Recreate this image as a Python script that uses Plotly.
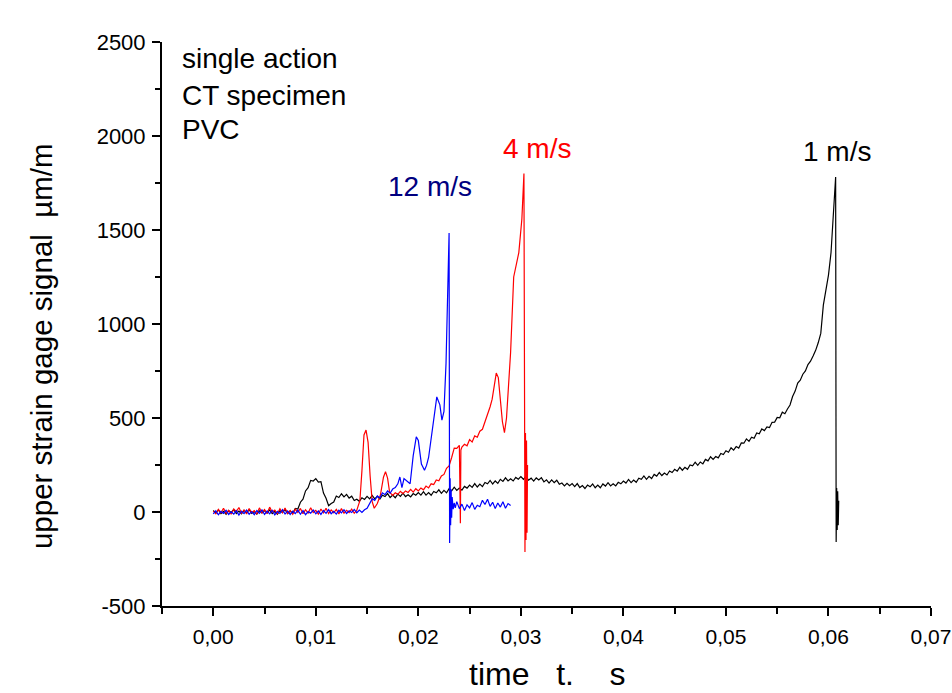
import plotly.graph_objects as go

# sample spacing of the logger, ms
dt_ms = 0.25

# ---- 1 m/s : evenly sampled part 0 .. 59.75 ms, then the fracture tail
v_1ms_s = [
    8, -6, 11, -9, 3, -12, 7, -2,
    13, -8, 5, -10, 9, -4, 12, -7,
    2, -11, 6, -5, 8, -6, 11, -9,
    3, -12, 7, -2, 13, -8, 5, -7,
    19, 16, 52, 68, 112, 129, 168, 165,
    178, 159, 161, 101, 73, 33, 45, 53,
    85, 77, 97, 80, 94, 74, 84, 61,
    68, 57, 76, 67, 83, 70, 88, 70,
    83, 69, 89, 82, 98, 77, 90, 76,
    95, 83, 100, 82, 92, 80, 98, 89,
    103, 90, 108, 90, 103, 89, 109, 102,
    118, 99, 115, 102, 124, 113, 132, 115,
    127, 116, 136, 127, 143, 131, 151, 133,
    148, 135, 157, 150, 168, 149, 165, 152,
    174, 163, 182, 165, 177, 165, 184, 174,
    188, 174, 190, 169, 180, 164, 181, 170,
    183, 160, 171, 154, 171, 156, 169, 148,
    154, 139, 153, 140, 151, 135, 151, 130,
    141, 125, 143, 134, 149, 129, 143, 129,
    149, 138, 156, 139, 150, 139, 158, 150,
    165, 154, 173, 156, 170, 158, 180, 174,
    192, 174, 190, 178, 200, 191, 210, 194,
    207, 197, 218, 210, 227, 217, 238, 222,
    238, 227, 250, 246, 265, 248, 266, 256,
    280, 272, 294, 280, 295, 288, 311, 306,
    326, 318, 342, 329, 348, 340, 367, 366,
    389, 376, 398, 392, 420, 416, 442, 433,
    452, 449, 477, 478, 503, 501, 531, 523,
    548, 569, 614, 643, 686, 701, 733, 750,
    784, 802, 830, 860, 900, 950, 1100, 1180,
]
t_1ms_tail = [60.0, 60.25, 60.5, 60.7, 60.75, 60.8, 60.85, 60.9, 60.95, 61.0]
v_1ms_tail = [1260, 1380, 1600, 1782, -160, 128, -96, 110, -70, 60]

# ---- 4 m/s : evenly sampled 0 .. 13.75 ms, then the loading part
v_4ms_s = [
    5, -9, 14, -4, 20, -7, 9, -12, 16, 2, 24, -6, 11, -10, 18, -3,
    7, -11, 22, -5, 13, -8, 26, 0, 10, -9, 17, -4, 21, -7, 8, -12,
    15, -2, 19, -9, 12, -6, 23, -3, 9, -11, 16, -5, 20, -8, 11, -4,
    14, -10, 18, -6, 9, -3, 15, -7,
]
t_4ms_tail = [14.0, 14.3, 14.5, 14.7, 14.9, 15.1, 15.3, 15.5, 15.7, 16.0, 16.3, 16.6,
              16.8, 17.0, 17.2, 17.5, 17.75, 18.0, 18.25, 18.5, 18.75, 19.0, 19.25,
              19.5, 19.75, 20.0, 20.25, 20.5, 20.75, 21.0, 21.25, 21.5, 21.75, 22.0,
              22.25, 22.5, 22.75, 23.0, 23.25, 23.5, 23.75, 24.0, 24.1, 24.15, 24.25,
              24.5, 24.75, 25.0, 25.25, 25.5, 25.75, 26.0, 26.25, 26.5, 26.75, 27.0,
              27.2, 27.4, 27.6, 27.8, 28.0, 28.2, 28.4, 28.6, 29.0, 29.3, 29.8, 30.1,
              30.3, 30.4, 30.45, 30.5, 30.55, 30.6, 30.65]
v_4ms_tail = [10, 60, 220, 410, 436, 370, 190, 55, 20, 45, 90, 185,
              215, 180, 105, 88, 102, 94, 110, 97, 112, 104, 120,
              106, 124, 112, 128, 118, 138, 128, 150, 146, 170, 166,
              192, 200, 232, 245, 290, 340, 338, 355, -60, 330, 345,
              360, 352, 385, 372, 405, 398, 430, 440, 480, 510, 560,
              600, 665, 739, 715, 610, 480, 422, 500, 850, 1250, 1380, 1560,
              1800, -213, 420, -149, 380, -110, 250]

# ---- 12 m/s : evenly sampled 0 .. 14.25 ms, then the loading part
v_12ms_s = [
    -10, 6, -15, 3, -8, 9, -13, 1, -11, 7, -16, 4, -9, 10, -12, 2,
    -14, 8, -7, 11, -13, 5, -10, 9, -15, 3, -8, 12, -11, 6, -13, 4,
    -9, 10, -12, 7, -14, 2, -6, 11, -10, 5, -13, 8, -7, 13, -9, 4,
    -11, 9, -5, 12, -8, 6, -3, 14, -4, 10,
]
t_12ms_tail = [14.5, 14.75, 15.0, 15.25, 15.5, 15.75, 16.0, 16.25, 16.5, 16.75, 17.0,
               17.25, 17.5, 17.75, 18.0, 18.2, 18.4, 18.6, 19.0, 19.2, 19.5, 19.8,
               20.0, 20.3, 20.6, 20.8, 21.0, 21.3, 21.8, 22.1, 22.3, 22.5, 22.7, 23.0,
               23.05, 23.1, 23.15, 23.2, 23.25, 23.3, 23.4, 23.5, 23.6, 23.75, 24.0,
               24.25, 24.5, 24.75, 25.0, 25.25, 25.5, 25.75, 26.0, 26.25, 26.5, 26.75,
               27.0, 27.25, 27.5, 27.75, 28.0, 28.25, 28.5, 28.75, 29.0]
v_12ms_tail = [-2, 12, 20, 48, 70, 62, 85, 74, 102, 92, 112,
               100, 122, 130, 150, 186, 130, 178, 160, 150, 300, 400,
               380, 255, 222, 248, 290, 420, 612, 570, 489, 535, 790, 1484,
               -165, 180, -70, 120, -30, 80, 15, 48, 22, 55, 18,
               42, 8, 38, 22, 50, 14, 36, 28, 62, 40, 68,
               30, 52, 18, 48, 26, 55, 20, 45, 35]

x_tick_vals = [0.0, 0.01, 0.02, 0.03, 0.04, 0.05, 0.06, 0.07]
x_tick_text = ["0,00", "0,01", "0,02", "0,03", "0,04", "0,05", "0,06", "0,07"]
y_tick_vals = [-500, 0, 500, 1000, 1500, 2000, 2500]
y_tick_text = ["-500", "0", "500", "1000", "1500", "2000", "2500"]

ARIAL = "Liberation Sans, Arial, sans-serif"


def series(v_even, t_tail, v_tail):
    t = [i * dt_ms for i in range(len(v_even))] + t_tail
    return [a / 1000 for a in t], v_even + v_tail


fig = go.Figure()
for v_even, t_tail, v_tail, col in [(v_1ms_s, t_1ms_tail, v_1ms_tail, "#000000"),
                                    (v_4ms_s, t_4ms_tail, v_4ms_tail, "#ff0000"),
                                    (v_12ms_s, t_12ms_tail, v_12ms_tail, "#0000ff")]:
    x, y = series(v_even, t_tail, v_tail)
    fig.add_trace(go.Scatter(x=x, y=y, mode="lines",
                             line=dict(color=col, width=1.2), showlegend=False))

fig.update_layout(
    width=963, height=693,
    margin=dict(l=162, r=22, t=42, b=87),
    plot_bgcolor="white", paper_bgcolor="white",
    xaxis=dict(range=[-0.005, 0.07], tickvals=x_tick_vals, ticktext=x_tick_text,
               showgrid=False, zeroline=False, showline=True, linecolor="black", linewidth=2,
               ticks="outside", ticklen=8, tickwidth=1.5, tickcolor="black",
               ticklabelstandoff=3,
               tickfont=dict(family=ARIAL, size=21, color="black"),
               minor=dict(ticks="outside", ticklen=6, tickwidth=1.5, tickcolor="black",
                          tick0=0, dtick=0.005)),
    yaxis=dict(range=[-500, 2500], tickvals=y_tick_vals, ticktext=y_tick_text,
               showgrid=False, zeroline=False, showline=True, linecolor="black", linewidth=2,
               ticks="outside", ticklen=8, tickwidth=1.5, tickcolor="black",
               ticklabelstandoff=2,
               tickfont=dict(family=ARIAL, size=22, color="black"),
               minor=dict(ticks="outside", ticklen=5, tickwidth=1.5, tickcolor="black",
                          tick0=0, dtick=250)),
)

# axis titles
fig.add_annotation(text="time   t.    s", xref="paper", yref="paper", x=0.501, y=-0.1206,
                   xanchor="center", yanchor="middle",
                   showarrow=False, font=dict(family=ARIAL, size=32, color="black"))
fig.add_annotation(text="upper strain gage signal  µm/m", xref="paper", yref="paper",
                   x=-0.156, y=0.461, xanchor="center", yanchor="middle",
                   textangle=-90, showarrow=False,
                   font=dict(family=ARIAL, size=29.5, color="black"))

# info block
for txt, yy in [("single action", 0.970), ("CT specimen", 0.906), ("PVC", 0.844)]:
    fig.add_annotation(text=txt, xref="paper", yref="paper", x=0.024, y=yy,
                       xanchor="left", yanchor="middle", showarrow=False,
                       font=dict(family=ARIAL, size=28, color="black"))

# speed labels
for txt, xx, yy, col in [("12 m/s", 0.02115, 1729, "#000080"),
                         ("4 m/s", 0.0316, 1931, "#ff0000"),
                         ("1 m/s", 0.0608, 1915, "#000000")]:
    fig.add_annotation(text=txt, x=xx, y=yy, showarrow=False,
                       xanchor="center", yanchor="middle",
                       font=dict(family=ARIAL, size=28, color=col))

# drop the default page margin so the figure sits at the window corner
fig.write_html("out.html", config={"displayModeBar": False}, post_script=(
    "document.body.style.margin='0';"
    "document.body.style.overflow='hidden';"
    "document.documentElement.style.overflow='hidden';"))
